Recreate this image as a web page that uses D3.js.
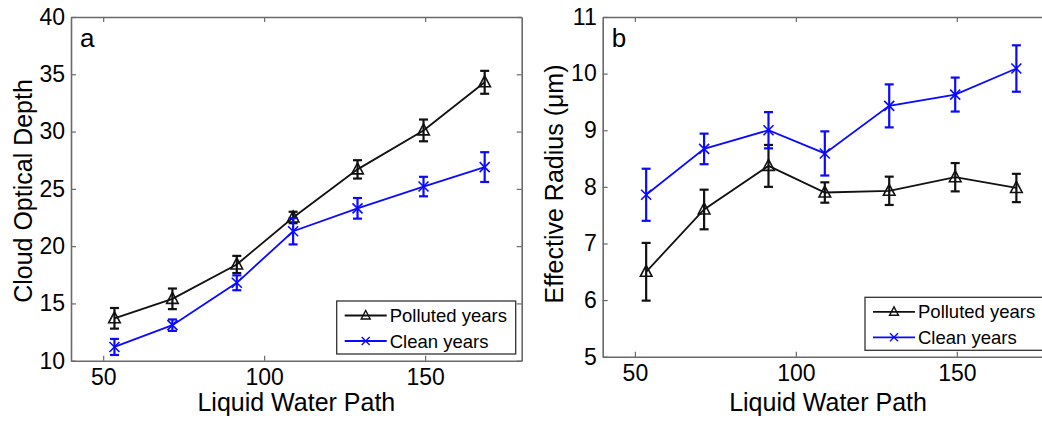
<!DOCTYPE html>
<html>
<head>
<meta charset="utf-8">
<script src="https://cdn.jsdelivr.net/npm/d3@7"></script>
<style>
  body { margin: 0; background: #fff; }
  text { font-family: 'Liberation Sans', Arial, sans-serif; }
</style>
</head>
<body>
<div id="chart"></div>
<script>
// liquid water path bins (shared by both panels)
var lwp = [53.5, 71.5, 91.5, 109, 129, 149.5, 168.5]

// panel a: cloud optical depth
var tauPolluted = [13.7, 15.4, 18.4, 22.5, 26.7, 30.1, 34.3]
var tauPollutedErr = [0.9, 0.9, 0.75, 0.5, 0.8, 0.95, 1.0]
var tauClean = [11.2, 13.1, 16.8, 21.3, 23.3, 25.2, 26.9]
var tauCleanErr = [0.7, 0.5, 0.65, 1.15, 0.9, 0.85, 1.3]

// panel b: effective radius
var rePolluted = [6.5, 7.6, 8.37, 7.9, 7.93, 8.17, 7.98]
var rePollutedErr = [0.51, 0.35, 0.37, 0.18, 0.25, 0.25, 0.25]
var reClean = [7.86, 8.67, 9.0, 8.59, 9.43, 9.63, 10.09]
var reCleanErr = [0.46, 0.27, 0.32, 0.39, 0.38, 0.3, 0.41]

var xTicks = [50, 100, 150]
var tauTicks = [10, 15, 20, 25, 30, 35, 40]
var reTicks = [5, 6, 7, 8, 9, 10, 11]
var seriesNames = ['Polluted years', 'Clean years']

var axisColor = '#6a6a6a',
  pollutedColor = '#111',
  cleanColor = '#0a0aff'

var svg = d3.select('#chart').append('svg')
  .attr('width', 1042)
  .attr('height', 421)

svg.append('rect').attr('width', 1042).attr('height', 421).attr('fill', '#fff')

function zipSeries(ys, errs) {
  return lwp.map(function(x, i) { return {x: x, y: ys[i], e: errs[i]} })
}

function drawPanel(cfg) {
  var x = d3.scaleLinear().domain([40, 180]).range([cfg.left, cfg.right])
  var y = d3.scaleLinear().domain(cfg.yDomain).range([cfg.bottom, cfg.top])
  var g = svg.append('g')
  var fmt = d3.format('d')

  // frame with inward ticks on all four sides
  g.append('g')
    .attr('transform', 'translate(0,' + cfg.bottom + ')')
    .call(d3.axisBottom(x).tickValues(xTicks).tickFormat(fmt).tickSizeInner(-5).tickSizeOuter(0).tickPadding(8))
  g.append('g')
    .attr('transform', 'translate(0,' + cfg.top + ')')
    .call(d3.axisTop(x).tickValues(xTicks).tickSizeInner(-5).tickSizeOuter(0).tickFormat(''))
  g.append('g')
    .attr('transform', 'translate(' + cfg.left + ',0)')
    .call(d3.axisLeft(y).tickValues(cfg.yTicks).tickFormat(fmt).tickSizeInner(-5).tickSizeOuter(0).tickPadding(6))
  g.append('g')
    .attr('transform', 'translate(' + cfg.right + ',0)')
    .call(d3.axisRight(y).tickValues(cfg.yTicks).tickSizeInner(-5).tickSizeOuter(0).tickFormat(''))

  g.selectAll('.domain').attr('stroke', axisColor).attr('stroke-width', 1.6)
  g.selectAll('.tick line').attr('stroke', axisColor).attr('stroke-width', 1.2)
  g.selectAll('.tick text')
    .attr('fill', '#000')
    .attr('font-size', 23)
    .attr('font-family', "'Liberation Sans', Arial, sans-serif")

  // axis titles
  g.append('text')
    .attr('x', (cfg.left + cfg.right) / 2)
    .attr('y', 411)
    .attr('text-anchor', 'middle')
    .attr('font-size', 25)
    .text('Liquid Water Path')

  g.append('text')
    .attr('transform', 'translate(' + cfg.yTitleX + ',' + cfg.yTitleY + ') rotate(-90)')
    .attr('text-anchor', 'middle')
    .attr('font-size', 25)
    .text(cfg.yTitle)

  g.append('text')
    .attr('x', cfg.left + 9)
    .attr('y', 47)
    .attr('font-size', 26)
    .text(cfg.letter)

  var line = d3.line()
    .x(function(d) { return x(d.x) })
    .y(function(d) { return y(d.y) })

  var series = [
    {data: zipSeries(cfg.polluted, cfg.pollutedErr), color: pollutedColor, marker: 'tri'},
    {data: zipSeries(cfg.clean, cfg.cleanErr), color: cleanColor, marker: 'x'}
  ]

  series.forEach(function(s) {
    var sg = g.append('g')

    sg.append('path')
      .datum(s.data)
      .attr('d', line)
      .attr('fill', 'none')
      .attr('stroke', s.color)
      .attr('stroke-width', 1.8)

    // error bars
    var eb = sg.selectAll('.err')
      .data(s.data)
      .enter().append('g')
      .attr('class', 'err')
      .attr('stroke', s.color)
      .attr('stroke-width', 2.2)

    eb.append('line')
      .attr('x1', function(d) { return x(d.x) })
      .attr('x2', function(d) { return x(d.x) })
      .attr('y1', function(d) { return y(d.y - d.e) })
      .attr('y2', function(d) { return y(d.y + d.e) })
    eb.append('line')
      .attr('x1', function(d) { return x(d.x) - 4.5 })
      .attr('x2', function(d) { return x(d.x) + 4.5 })
      .attr('y1', function(d) { return y(d.y + d.e) })
      .attr('y2', function(d) { return y(d.y + d.e) })
    eb.append('line')
      .attr('x1', function(d) { return x(d.x) - 4.5 })
      .attr('x2', function(d) { return x(d.x) + 4.5 })
      .attr('y1', function(d) { return y(d.y - d.e) })
      .attr('y2', function(d) { return y(d.y - d.e) })

    sg.selectAll('.mk')
      .data(s.data)
      .enter().append('path')
      .attr('class', 'mk')
      .attr('transform', function(d) { return 'translate(' + x(d.x) + ',' + y(d.y) + ')' })
      .attr('d', s.marker == 'tri' ? 'M0,-6.5L5.8,4.5L-5.8,4.5Z' : 'M-5,-5L5,5M-5,5L5,-5')
      .attr('fill', 'none')
      .attr('stroke', s.color)
      .attr('stroke-width', 1.6)
  })

  // legend
  var lg = g.append('g').attr('transform', 'translate(' + cfg.legendX + ',' + cfg.legendY + ')')
  lg.append('rect')
    .attr('width', 179)
    .attr('height', 53)
    .attr('fill', '#fff')
    .attr('stroke', '#333')
    .attr('stroke-width', 1.3)

  var rows = lg.selectAll('.row')
    .data(series)
    .enter().append('g')
    .attr('class', 'row')
    .attr('transform', function(d, i) { return 'translate(0,' + (14.5 + i * 25.5) + ')' })

  rows.append('line')
    .attr('x1', 8)
    .attr('x2', 50)
    .attr('stroke', function(d) { return d.color })
    .attr('stroke-width', 1.8)
  rows.append('path')
    .attr('transform', 'translate(29,0)')
    .attr('d', function(d) { return d.marker == 'tri' ? 'M0,-5L4.5,3.5L-4.5,3.5Z' : 'M-4,-4L4,4M-4,4L4,-4' })
    .attr('fill', 'none')
    .attr('stroke', function(d) { return d.color })
    .attr('stroke-width', 1.4)
  rows.append('text')
    .attr('x', 53)
    .attr('dy', '0.36em')
    .attr('font-size', 18.5)
    .text(function(d, i) { return seriesNames[i] })
}

drawPanel({
  left: 71, right: 521.7, top: 17, bottom: 360.7,
  yDomain: [10, 40], yTicks: tauTicks,
  yTitle: 'Cloud Optical Depth', yTitleX: 31.5, yTitleY: 191,
  letter: 'a',
  polluted: tauPolluted, pollutedErr: tauPollutedErr,
  clean: tauClean, cleanErr: tauCleanErr,
  legendX: 336.7, legendY: 301
})

drawPanel({
  left: 602.7, right: 1053.4, top: 17, bottom: 356.7,
  yDomain: [5, 11], yTicks: reTicks,
  yTitle: 'Effective Radius (\u03bcm)', yTitleX: 563, yTitleY: 184,
  letter: 'b',
  polluted: rePolluted, pollutedErr: rePollutedErr,
  clean: reClean, cleanErr: reCleanErr,
  legendX: 865, legendY: 297.3
})
</script>
</body>
</html>
